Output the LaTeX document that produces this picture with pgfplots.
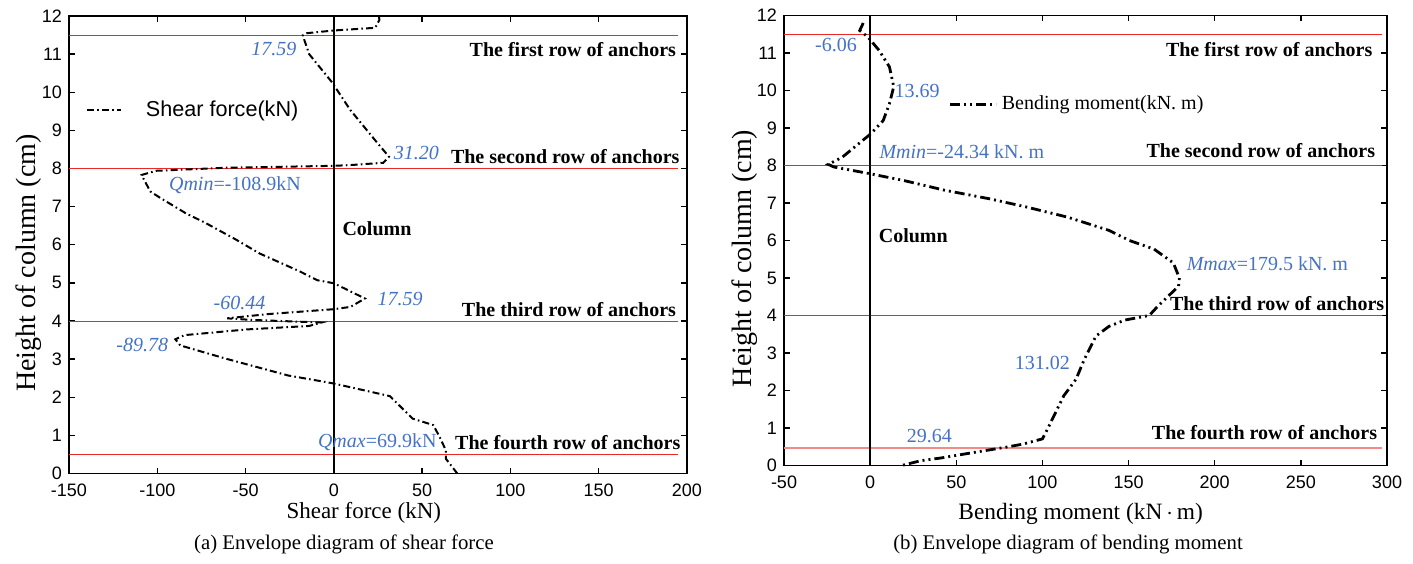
\documentclass[border=0pt]{standalone}
\usepackage{pgfplots}
\pgfplotsset{compat=1.18}
\usepackage{fontspec}
\setmainfont{Liberation Serif}
\newfontfamily\arialfont{Liberation Sans}
\definecolor{lblue}{RGB}{68,114,196}
\definecolor{rowred}{RGB}{235,40,40}

% shear force along the column (kN, height in cm)
\pgfplotstableread{
x y
25.5 12.0
25.8 11.9
23.4 11.69
0 11.62
-15.2 11.55
-17.59 11.49
-14 11.0
-1.2 10.27
9.4 9.53
23.4 8.74
31.2 8.31
28 8.15
9.4 8.09
0 8.07
-61 8.02
-100.7 7.94
-108.9 7.83
-104 7.40
-98 7.22
-84 6.83
-72.6 6.57
-56 6.15
-42 5.77
-18.8 5.29
-9.4 5.07
0 4.99
17.59 4.59
9.4 4.37
0 4.31
-37.6 4.18
-60.44 4.07
-47 4.03
-7 3.96
-14 3.87
-49 3.78
-84.5 3.63
-89.78 3.52
-87 3.36
-61 3.01
-25.8 2.57
-4.7 2.40
0 2.36
31.7 2.03
44.6 1.44
56.3 1.27
59.9 0.96
63.4 0.61
63.4 0.39
69.9 0
}\shear

% bending moment along the column (kN m, height in cm)
\pgfplotstableread{
x y
-4 11.8
-6.06 11.6
-1.4 11.43
5.2 11.07
11.2 10.63
13.69 10.1
11.2 9.65
7.6 9.2
0.5 8.85
-6.7 8.58
-16.2 8.22
-24.34 8.03
-21 7.96
0 7.78
19.5 7.6
43.3 7.34
69.5 7.11
91 6.89
114.8 6.62
138.6 6.27
150.5 6.0
164.8 5.77
176 5.4
179.5 5.0
179 4.78
167 4.25
162 4.0
148 3.88
138.6 3.71
131.02 3.45
124.3 2.83
119.5 2.3
112.4 1.86
107.6 1.41
102.9 0.97
100 0.71
88.6 0.57
79 0.49
55.2 0.31
41 0.2
29.64 0.13
18.3 0.0
}\moment

\pgfplotsset{
  envelope/.style={
    scale only axis,
    anchor=south west,
    ymin=0, ymax=12, ytick={0,1,...,12},
    tick align=inside,
    major tick length=3pt,
    tick style={line width=0.7pt, black},
    axis line style={line width=0.9pt},
    /pgf/number format/assume math mode=true,
    tick label style={font=\arialfont\fontsize{9}{10}\selectfont},
    xticklabel style={yshift=-1.5pt},
    ylabel={Height of column (cm)},
    clip=false,
  },
}
\tikzset{
  vlabel/.style={font=\fontsize{10}{12}\selectfont, text=lblue, inner sep=0pt},
  ivlabel/.style={font=\fontsize{10}{12}\selectfont\itshape, text=lblue, inner sep=0pt},
  rowlabel/.style={font=\fontsize{10}{12}\selectfont\bfseries, anchor=east, inner sep=0pt},
}

\begin{document}
\begin{tikzpicture}
\useasboundingbox (0,0) rectangle (706.5pt,281.5pt);

% (a) shear force
\begin{axis}[envelope,
  at={(34.5pt,44.75pt)}, width=309pt, height=228.75pt,
  xmin=-150, xmax=200, xtick={-150,-100,...,200},
  xlabel={Shear force (kN)},
  every axis x label/.style={at={(axis description cs:0.477,0)}, anchor=base,
    yshift=-22.5pt, font=\fontsize{11.5}{13}\selectfont},
  every axis y label/.style={at={(axis description cs:-0.065,0.46)}, rotate=90,
    anchor=center, font=\fontsize{14}{16}\selectfont},
  legend style={at={(axis description cs:0.017,0.795)}, anchor=west, draw=none, fill=none,
    font=\arialfont\fontsize{10.8}{12}\selectfont},
  legend image code/.code={\draw[#1] (0pt,0pt) -- (17pt,0pt); \path (27pt,0pt);},
]
\addplot[rowred, line width=0.5pt, forget plot] coordinates {(-150,11.5) (195,11.5)};
\addplot[rowred, line width=0.5pt, forget plot] coordinates {(-150,8) (195,8)};
\addplot[rowred, line width=0.5pt, forget plot] coordinates {(-150,4) (195,4)};
\addplot[rowred, line width=0.5pt, forget plot] coordinates {(-150,0.5) (195,0.5)};
\addplot[black, line width=1pt, forget plot] coordinates {(0,0) (0,12)};
\addplot[black, line width=1pt, dash pattern=on 3.5pt off 1.6pt on 0.8pt off 1.6pt]
  table[x=x, y=y] {\shear};
\addlegendentry{Shear force(kN)}

\node[ivlabel] at (axis cs:-34,11.14) {17.59};
\node[ivlabel] at (axis cs:46.8,8.4) {31.20};
\node[vlabel] at (axis cs:-56,7.57) {\textit{Qmin}=-108.9kN};
\node[ivlabel] at (axis cs:-53.4,4.46) {-60.44};
\node[ivlabel] at (axis cs:37.6,4.57) {17.59};
\node[ivlabel] at (axis cs:-108.5,3.37) {-89.78};
\node[vlabel] at (axis cs:24.6,0.83) {\textit{Qmax}=69.9kN};
\node[font=\fontsize{10}{12}\selectfont\bfseries, anchor=west, inner sep=0pt] at (axis cs:4.7,6.41) {Column};
\node[rowlabel] at (axis cs:194,11.11) {The first row of anchors};
\node[rowlabel] at (axis cs:196,8.31) {The second row of anchors};
\node[rowlabel] at (axis cs:194,4.29) {The third row of anchors};
\node[rowlabel] at (axis cs:196.5,0.80) {The fourth row of anchors};
\end{axis}

% (b) bending moment
\begin{axis}[envelope,
  at={(392pt,48.75pt)}, width=301.5pt, height=225pt,
  xmin=-50, xmax=300, xtick={-50,0,...,300},
  xlabel={Bending moment (kN\,$\cdot$\,m)},
  every axis x label/.style={at={(axis description cs:0.492,0)}, anchor=base,
    yshift=-27pt, font=\fontsize{11.7}{13}\selectfont},
  every axis y label/.style={at={(axis description cs:-0.066,0.46)}, rotate=90,
    anchor=center, font=\fontsize{14}{16}\selectfont},
  legend style={at={(axis description cs:0.263,0.8025)}, anchor=west, draw=none, fill=none,
    font=\fontsize{10}{12}\selectfont},
  legend image code/.code={\draw[#1] (0pt,0pt) -- (23pt,0pt);},
]
\addplot[rowred, line width=0.5pt, forget plot] coordinates {(-50,11.5) (297,11.5)};
\addplot[rowred, line width=0.5pt, forget plot] coordinates {(-50,8) (297,8)};
\addplot[rowred, line width=0.5pt, forget plot] coordinates {(-50,4) (297,4)};
\addplot[rowred!55, line width=0.7pt, forget plot] coordinates {(-50,0.47) (297,0.47)};
\addplot[black, line width=1pt, forget plot] coordinates {(0,0) (0,12)};
\addplot[black, line width=1.4pt, dash pattern=on 5pt off 2pt on 1pt off 2pt on 1pt off 2pt]
  table[x=x, y=y] {\moment};
\addlegendentry{Bending moment(kN. m)}

\node[vlabel] at (axis cs:-19.8,11.21) {-6.06};
\node[vlabel] at (axis cs:27.3,9.99) {13.69};
\node[vlabel] at (axis cs:53.2,8.36) {\textit{Mmin}=-24.34 kN. m};
\node[vlabel] at (axis cs:230.6,5.37) {\textit{Mmax}=179.5 kN. m};
\node[vlabel] at (axis cs:99.9,2.73) {131.02};
\node[vlabel] at (axis cs:34.4,0.79) {29.64};
\node[font=\fontsize{10}{12}\selectfont\bfseries, anchor=west, inner sep=0pt] at (axis cs:4.8,6.13) {Column};
\node[rowlabel] at (axis cs:291.7,11.09) {The first row of anchors};
\node[rowlabel] at (axis cs:293.3,8.40) {The second row of anchors};
\node[rowlabel] at (axis cs:298.6,4.32) {The third row of anchors};
\node[rowlabel] at (axis cs:294.5,0.875) {The fourth row of anchors};
\end{axis}

\node[font=\fontsize{10.4}{12}\selectfont, anchor=base] at (172pt,7pt) {(a) Envelope diagram of shear force};
\node[font=\fontsize{10.4}{12}\selectfont, anchor=base] at (534pt,7pt) {(b) Envelope diagram of bending moment};
\end{tikzpicture}
\end{document}
